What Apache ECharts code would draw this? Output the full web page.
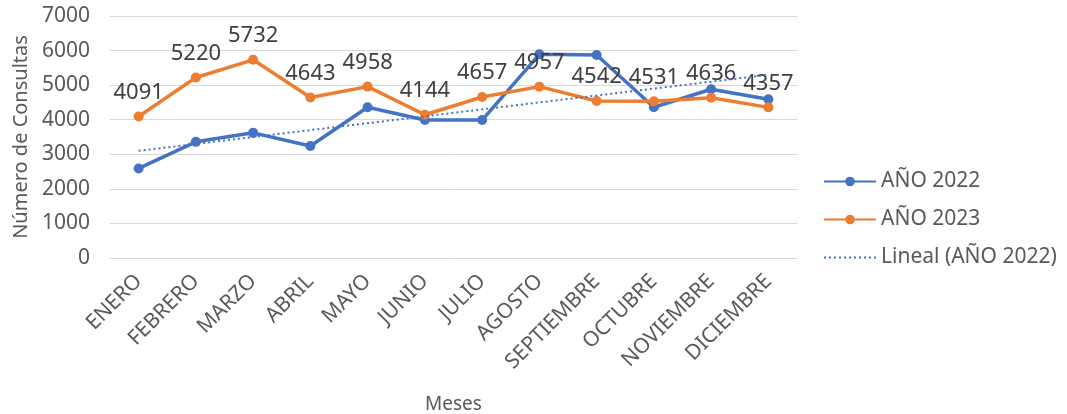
<!DOCTYPE html>
<html>
<head>
<meta charset="utf-8">
<script src="https://cdn.jsdelivr.net/npm/echarts@6/dist/echarts.min.js"></script>
<style>
html,body{margin:0;padding:0;background:#ffffff;}
#chart{width:1067px;height:414px;}
</style>
</head>
<body>
<div id="chart"></div>
<script>
const months = ['ENERO','FEBRERO','MARZO','ABRIL','MAYO','JUNIO','JULIO','AGOSTO','SEPTIEMBRE','OCTUBRE','NOVIEMBRE','DICIEMBRE'];
const values2022 = [2590, 3360, 3620, 3240, 4360, 3990, 3990, 5890, 5870, 4360, 4880, 4590];
const values2023 = [4091, 5220, 5732, 4643, 4958, 4144, 4657, 4957, 4542, 4531, 4636, 4357];
// trend line (Lineal AÑO 2022): start and end values
const trend2022 = [3100, null, null, null, null, null, null, null, null, null, null, 5300];
const yTicks = [0, 1000, 2000, 3000, 4000, 5000, 6000, 7000];

const FONT = 'Noto Sans';
const chart = echarts.init(document.getElementById('chart'));
chart.setOption({
  backgroundColor: '#ffffff',
  animation: false,
  textStyle: { fontFamily: FONT },
  grid: { left: 110, right: 270, top: 16, bottom: 156, outerBoundsMode: 'none', containLabel: false },
  legend: {
    orient: 'vertical',
    left: 818,
    top: 166,
    itemWidth: 52,
    itemHeight: 12,
    itemGap: 17,
    textStyle: { fontFamily: FONT, fontSize: 21, color: '#595959' },
    data: [
      { name: 'AÑO 2022' },
      { name: 'AÑO 2023' },
      { name: 'Lineal (AÑO 2022)', itemStyle: { opacity: 0 } }
    ]
  },
  xAxis: {
    type: 'category',
    data: months,
    boundaryGap: true,
    name: 'Meses',
    nameLocation: 'middle',
    nameGap: 137,
    nameTextStyle: { fontFamily: FONT, fontSize: 19, color: '#595959' },
    axisLine: { show: true, lineStyle: { color: '#d9d9d9' } },
    axisTick: { show: false },
    axisLabel: { rotate: 45, fontFamily: FONT, fontSize: 21, color: '#595959', margin: 20, interval: 0 }
  },
  yAxis: {
    type: 'value',
    min: yTicks[0],
    max: yTicks[yTicks.length - 1],
    interval: 1000,
    name: 'Número de Consultas',
    nameLocation: 'middle',
    nameGap: 74,
    nameTextStyle: { fontFamily: FONT, fontSize: 20, color: '#595959' },
    axisLine: { show: false },
    axisTick: { show: false },
    axisLabel: { fontFamily: FONT, fontSize: 21, color: '#595959', margin: 20, formatter: function (v) { return String(v); } },
    splitLine: { lineStyle: { color: '#d9d9d9', width: 1 } }
  },
  series: [
    {
      name: 'AÑO 2022',
      type: 'line',
      data: values2022,
      symbol: 'circle',
      symbolSize: 10,
      lineStyle: { color: '#4472C4', width: 3.5 },
      itemStyle: { color: '#4472C4' },
      z: 2
    },
    {
      name: 'AÑO 2023',
      type: 'line',
      data: values2023,
      symbol: 'circle',
      symbolSize: 10,
      lineStyle: { color: '#ED7D31', width: 3.5 },
      itemStyle: { color: '#ED7D31' },
      label: { show: true, position: 'top', distance: 8, fontFamily: FONT, fontSize: 22, color: '#404040' },
      z: 3
    },
    {
      name: 'Lineal (AÑO 2022)',
      type: 'line',
      data: trend2022,
      connectNulls: true,
      symbol: 'none',
      showSymbol: false,
      lineStyle: { color: '#4472C4', width: 2, type: [2, 3] },
      itemStyle: { color: '#4472C4' },
      z: 4
    }
  ]
});
</script>
</body>
</html>
